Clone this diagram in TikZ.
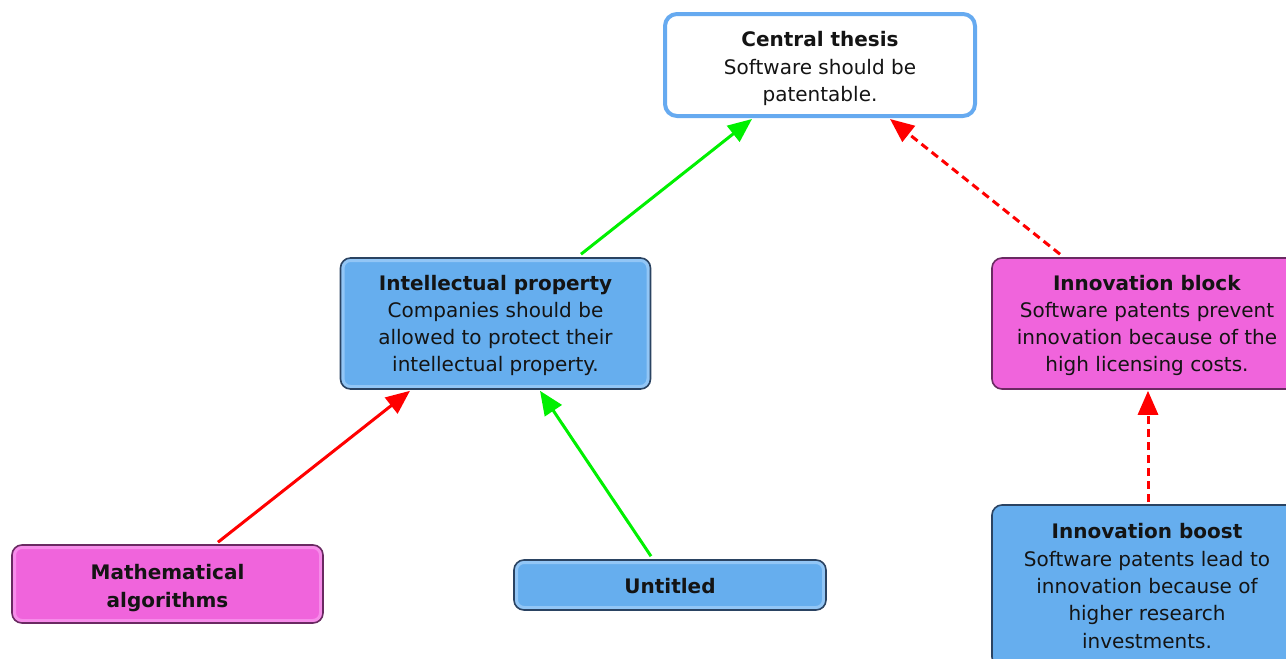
\documentclass[tikz,border=0pt]{standalone}
\usepackage{fontspec}
\setmainfont{DejaVu Sans}
\usetikzlibrary{arrows.meta}

\definecolor{claimblue}{HTML}{66AEEE}
\definecolor{claimbluerim}{HTML}{92C6F6}
\definecolor{claimblueedge}{HTML}{2A4362}
\definecolor{objpink}{HTML}{F064DC}
\definecolor{objpinkrim}{HTML}{F78CEA}
\definecolor{objpinkedge}{HTML}{6A2A62}
\definecolor{thesisedge}{HTML}{66AAF0}
\definecolor{supportgreen}{HTML}{00F000}
\definecolor{opposered}{HTML}{FF0000}

\tikzset{
  box/.style={rounded corners=10pt, inner sep=0pt, minimum width=310pt},
  boxtext/.style={align=center, inner sep=0pt, font=\fontsize{20}{27.3}\selectfont, text=black!92},
  thesisbox/.style={box, draw=thesisedge, line width=4pt, fill=white, rounded corners=12pt},
  bluebox/.style={box, draw=claimblueedge, line width=1.6pt, fill=claimblue},
  pinkbox/.style={box, draw=objpinkedge, line width=1.6pt, fill=objpink},
  bluerim/.style={path picture={\draw[claimbluerim, line width=8pt, rounded corners=10pt]
    (path picture bounding box.north west) rectangle (path picture bounding box.south east);}},
  pinkrim/.style={path picture={\draw[objpinkrim, line width=8pt, rounded corners=10pt]
    (path picture bounding box.north west) rectangle (path picture bounding box.south east);}},
  link/.style={line width=3pt, -{Triangle[length=24pt, width=20pt]}},
  supports/.style={link, supportgreen},
  opposes/.style={link, opposered},
  opposesdashed/.style={opposes, dash pattern=on 8pt off 5pt},
}

\begin{document}
\begin{tikzpicture}[x=1pt, y=-1pt]
  \useasboundingbox (0,0) rectangle (1286,659);
  \clip (0,0) rectangle (1286,659);

  % claim boxes
  \node[thesisbox, minimum height=102pt] (thesis) at (820,65) {};
  \node[bluebox, bluerim, minimum height=131pt] (intel) at (495.5,323.5) {};
  \node[pinkbox, minimum height=131pt] (block) at (1147,323.5) {};
  \node[pinkbox, pinkrim, minimum width=311pt, minimum height=78pt] (math) at (167.5,584) {};
  \node[bluebox, bluerim, minimum width=312pt, minimum height=50pt] (untitled) at (670,585) {};
  \node[bluebox, minimum height=162pt] (boost) at (1147,586) {};

  % box texts (shifts are in page direction, so negative moves down)
  \node[boxtext] (thesis-text) at ([yshift=-3.5pt]thesis.center)
    {\textbf{Central thesis}\\Software should be\\patentable.};
  \node[boxtext] (intel-text) at ([yshift=-2pt]intel.center)
    {\textbf{Intellectual property}\\Companies should be\\allowed to protect their\\intellectual property.};
  \node[boxtext] (block-text) at ([yshift=-2pt]block.center)
    {\textbf{Innovation block}\\Software patents prevent\\innovation because of the\\high licensing costs.};
  \node[boxtext] (math-text) at ([yshift=-4pt]math.center)
    {\textbf{Mathematical}\\\textbf{algorithms}};
  \node[boxtext] (untitled-text) at ([yshift=-1pt]untitled.center)
    {\textbf{Untitled}};
  \node[boxtext] (boost-text) at (boost.center)
    {\textbf{Innovation boost}\\Software patents lead to\\innovation because of\\higher research\\investments.};

  % supporting and opposing links
  \draw[supports] ([xshift=85.5pt, yshift=3pt]intel.north) -- ([xshift=-68pt, yshift=-1pt]thesis.south);
  \draw[opposesdashed] ([xshift=-87pt, yshift=3pt]block.north) -- ([xshift=70pt, yshift=-1pt]thesis.south);
  \draw[opposes] ([xshift=50.5pt, yshift=2pt]math.north) -- ([xshift=-85.5pt, yshift=-1pt]intel.south);
  \draw[supports] ([xshift=-19pt, yshift=3pt]untitled.north) -- ([xshift=44.5pt, yshift=-1pt]intel.south);
  \draw[opposesdashed] ([xshift=1pt, yshift=2pt]boost.north) -- ([xshift=1pt, yshift=-1pt]block.south);
\end{tikzpicture}
\end{document}
